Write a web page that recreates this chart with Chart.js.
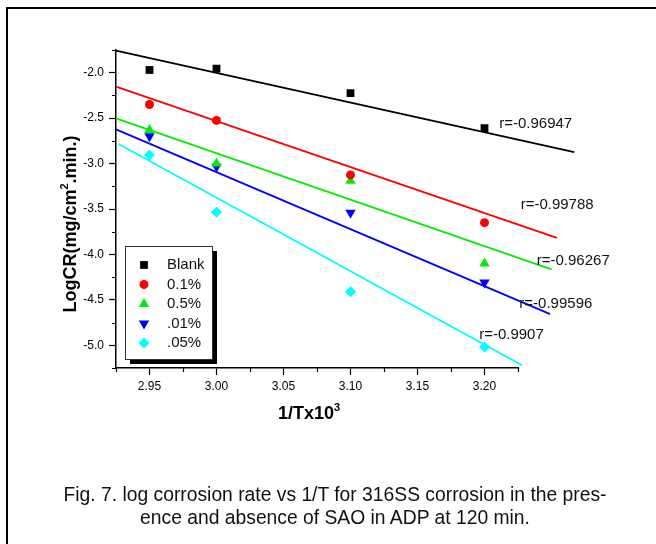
<!DOCTYPE html>
<html>
<head>
<meta charset="utf-8">
<script src="https://cdn.jsdelivr.net/npm/chart.js@4.4.0/dist/chart.umd.min.js"></script>
<style>
html, body { margin: 0; padding: 0; background: #fff; overflow: hidden; }
#wrap { position: relative; width: 656px; height: 544px; }
#frame { position: absolute; left: 6px; top: 7px; width: 700px; height: 600px;
         border-left: 2px solid #000; border-top: 2px solid #000; }
#chart { position: absolute; left: 0; top: 0; }
#caption { position: absolute; left: 7px; top: 483px; width: 656px; text-align: center;
           font: 19.3px "Liberation Sans", Arial, sans-serif; line-height: 23px; color: #111; }
</style>
</head>
<body>
<div id="wrap">
  <div id="frame"></div>
  <canvas id="chart" width="656" height="544"></canvas>
  <div id="caption">Fig. 7. log corrosion rate vs 1/T for 316SS corrosion in the pres-<br>ence and absence of SAO in ADP at 120 min.</div>
</div>
<script>
// Data
const invT = [2.95, 3.00, 3.10, 3.20];
const seriesNames = ['Blank', '0.1%', '0.5%', '.01%', '.05%'];
const blank  = [-1.97, -1.955, -2.225, -2.61];
const pct01  = [-2.35, -2.525, -3.125, -3.65];
const pct05  = [-2.63, -3.00, -3.19, -4.10];
const pct001 = [-2.70, -3.035, -3.54, -4.31];
const pct005 = [-2.905, -3.535, -4.41, -5.02];

// fitted straight lines (end points)
const fitStartX = [2.925, 2.925, 2.925, 2.925, 2.927];
const fitEndX   = [3.267, 3.254, 3.250, 3.249, 3.228];
const fitStartY = [-1.758, -2.154, -2.503, -2.624, -2.785];
const fitEndY   = [-2.873, -3.817, -4.165, -4.657, -5.219];
const rValues = ['r=-0.96947', 'r=-0.99788', 'r=-0.96267', 'r=-0.99596', 'r=-0.9907'];

const xTicks = [2.95, 3.00, 3.05, 3.10, 3.15, 3.20];
const yTicks = [-2.0, -2.5, -3.0, -3.5, -4.0, -4.5, -5.0];
const xMinor = [2.925, 2.975, 3.025, 3.075, 3.125, 3.175, 3.225];
const yMinor = [-1.75, -2.25, -2.75, -3.25, -3.75, -4.25, -4.75, -5.25];

// where the r= labels sit (data space)
const rLabelAt = [[3.211, -2.568], [3.227, -3.457], [3.239, -4.074], [3.226, -4.547], [3.196, -4.889]];

const colors = ['#000000', '#ff0000', '#00ee00', '#0000ff', '#00ffff'];
const styles = [
  { pointStyle: 'rect', radius: 5.5, rotation: 0 },
  { pointStyle: 'circle', radius: 4.5, rotation: 0 },
  { pointStyle: 'triangle', radius: 6, rotation: 0 },
  { pointStyle: 'triangle', radius: 6, rotation: 180 },
  { pointStyle: 'rectRot', radius: 5.5, rotation: 0 }
];
const allY = [blank, pct01, pct05, pct001, pct005];

const FONT = '"Liberation Sans", Arial, sans-serif';

const datasets = [];
allY.forEach((ys, i) => {
  datasets.push({
    type: 'scatter',
    label: seriesNames[i],
    data: invT.map((x, k) => ({ x: x, y: ys[k] })),
    backgroundColor: colors[i],
    borderColor: colors[i],
    borderWidth: 0,
    pointStyle: styles[i].pointStyle,
    pointRadius: styles[i].radius,
    rotation: styles[i].rotation,
    order: 0
  });
});
allY.forEach((ys, i) => {
  datasets.push({
    type: 'line',
    label: 'fit ' + seriesNames[i],
    data: [{ x: fitStartX[i], y: fitStartY[i] }, { x: fitEndX[i], y: fitEndY[i] }],
    borderColor: colors[i],
    borderWidth: 1.8,
    pointRadius: 0,
    fill: false,
    clip: false,
    order: 1
  });
});

// write text pieces with superscripts, starting at x0 along the baseline
function drawRich(ctx, parts, size, x0, y0) {
  let x = x0;
  parts.forEach(p => {
    if (p.sup) {
      ctx.font = 'bold ' + Math.round(size * 0.6) + 'px ' + FONT;
      ctx.fillText(p.t, x, y0 - size * 0.42);
    } else {
      ctx.font = 'bold ' + size + 'px ' + FONT;
      ctx.fillText(p.t, x, y0);
    }
    x += ctx.measureText(p.t).width;
  });
}
function richWidth(ctx, parts, size) {
  let w = 0;
  parts.forEach(p => {
    ctx.font = 'bold ' + (p.sup ? Math.round(size * 0.6) : size) + 'px ' + FONT;
    w += ctx.measureText(p.t).width;
  });
  return w;
}

const extras = {
  id: 'extras',
  afterDraw(chart) {
    const ctx = chart.ctx;
    const xs = chart.scales.x, ys = chart.scales.y;
    const area = chart.chartArea;
    ctx.save();

    // minor ticks
    ctx.strokeStyle = '#000';
    ctx.lineWidth = 1.2;
    ctx.beginPath();
    xMinor.forEach(v => {
      const px = Math.round(xs.getPixelForValue(v)) + 0.5;
      ctx.moveTo(px, area.bottom); ctx.lineTo(px, area.bottom + 4);
    });
    yMinor.forEach(v => {
      const py = Math.round(ys.getPixelForValue(v)) + 0.5;
      ctx.moveTo(area.left, py); ctx.lineTo(area.left - 4, py);
    });
    ctx.stroke();

    // axis titles
    ctx.fillStyle = '#000';
    ctx.textAlign = 'left';
    ctx.textBaseline = 'alphabetic';
    const xt = [{ t: '1/Tx10' }, { t: '3', sup: true }];
    const xw = richWidth(ctx, xt, 18);
    drawRich(ctx, xt, 18, 309 - xw / 2, 419);

    const yt = [{ t: 'LogCR(mg/cm' }, { t: '2', sup: true }, { t: '.min.)' }];
    const yw = richWidth(ctx, yt, 18);
    ctx.save();
    ctx.translate(76, 224);
    ctx.rotate(-Math.PI / 2);
    drawRich(ctx, yt, 18, -yw / 2, 0);
    ctx.restore();

    // r labels
    ctx.font = '15px ' + FONT;
    ctx.textBaseline = 'middle';
    ctx.fillStyle = '#111';
    rValues.forEach((t, i) => {
      ctx.fillText(t, xs.getPixelForValue(rLabelAt[i][0]), ys.getPixelForValue(rLabelAt[i][1]));
    });

    // legend box with shadow
    const bx = area.left + 9, by = area.top + 196, bw = 87, bh = 113;
    ctx.fillStyle = '#000';
    ctx.fillRect(bx + 5, by + 5, bw, bh);
    ctx.fillStyle = '#fff';
    ctx.fillRect(bx, by, bw, bh);
    ctx.strokeStyle = '#333';
    ctx.lineWidth = 1;
    ctx.strokeRect(bx + 0.5, by + 0.5, bw, bh);
    ctx.font = '15px ' + FONT;
    ctx.textBaseline = 'middle';
    seriesNames.forEach((name, i) => {
      const ry = by + 19 + i * 19.5;
      ctx.fillStyle = colors[i];
      ctx.strokeStyle = colors[i];
      Chart.helpers.drawPoint(ctx, {
        pointStyle: styles[i].pointStyle,
        radius: styles[i].radius,
        rotation: styles[i].rotation,
        borderWidth: 0
      }, bx + 19, ry);
      ctx.fillStyle = '#111';
      ctx.fillText(name, bx + 42, ry);
    });
    ctx.restore();
  }
};

new Chart(document.getElementById('chart').getContext('2d'), {
  data: { datasets: datasets },
  options: {
    responsive: false,
    animation: false,
    layout: { padding: { left: 0, top: 50, right: 138, bottom: 116 } },
    plugins: { legend: { display: false }, tooltip: { enabled: false } },
    scales: {
      x: {
        type: 'linear',
        min: 2.925,
        max: 3.225,
        afterBuildTicks: s => { s.ticks = xTicks.map(v => ({ value: v })); },
        afterFit: s => { s.height = 60; },
        ticks: { callback: v => v.toFixed(2), color: '#000', font: { family: FONT, size: 12 }, padding: 4, maxRotation: 0 },
        grid: { drawOnChartArea: false, drawTicks: true, tickLength: 7, tickColor: '#000', tickWidth: 1.2 },
        border: { display: true, color: '#000', width: 1.5 }
      },
      y: {
        type: 'linear',
        min: -5.25,
        max: -1.75,
        afterBuildTicks: s => { s.ticks = yTicks.map(v => ({ value: v })); },
        afterFit: s => { s.width = 116; },
        ticks: { callback: v => v.toFixed(1), color: '#000', font: { family: FONT, size: 12 }, padding: 5 },
        grid: { drawOnChartArea: false, drawTicks: true, tickLength: 7, tickColor: '#000', tickWidth: 1.2 },
        border: { display: true, color: '#000', width: 1.5 }
      }
    }
  },
  plugins: [extras]
});
</script>
</body>
</html>
